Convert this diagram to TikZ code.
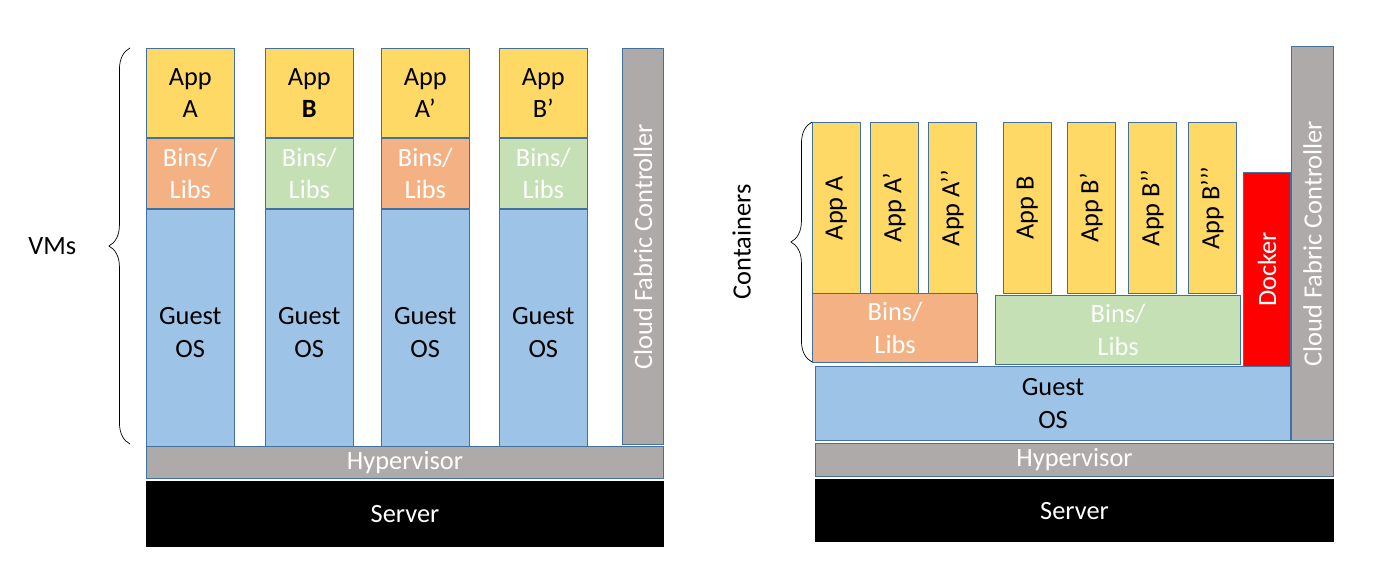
\documentclass[tikz,border=0pt]{standalone}
\usepackage{fontspec}
\setmainfont{Carlito}
\usepackage{xcolor}
\usepackage{graphicx}
\usepackage{tikz}
\usetikzlibrary{positioning, decorations.pathreplacing}
\definecolor{appyellow}{HTML}{FFD966}
\definecolor{binorange}{HTML}{F4B183}
\definecolor{bingreen}{HTML}{C5E0B4}
\definecolor{osblue}{HTML}{9DC3E6}
\definecolor{hvgray}{HTML}{AEAAAA}
\definecolor{dockerred}{HTML}{FF0000}
\definecolor{edgeblue}{HTML}{41719C}

\begin{document}
\begin{tikzpicture}[
    layer/.style={rectangle, draw=edgeblue, line width=0.6pt, anchor=north west, inner sep=0pt, align=center, font=\fontsize{15}{18.5}\selectfont},
    app/.style={layer, fill=appyellow, text=black},
    binsa/.style={layer, fill=binorange, text=white},
    binsb/.style={layer, fill=bingreen, text=white},
    guest/.style={layer, fill=osblue, text=black},
    grey/.style={layer, fill=hvgray, text=white},
    server/.style={layer, draw=black, fill=black, text=white},
    vmcol/.style={minimum width=1.75cm},
    capp/.style={app, minimum width=0.95cm, minimum height=3.42cm},
    brace/.style={decorate, decoration={brace, amplitude=12pt}, thin},
    side/.style={font=\fontsize{15}{18.5}\selectfont}
]
    \useasboundingbox (0,0) rectangle (27.5,-11.26);

    % Virtual machines
    \node[app, vmcol, minimum height=1.78cm] (vmappA) at (2.92,-0.96) {App\\A};
    \node[binsa, vmcol, minimum height=1.40cm, below=0pt of vmappA] (vmbinsA) {Bins/\\Libs};
    \node[guest, vmcol, minimum height=4.74cm, below=0pt of vmbinsA] (vmosA) {\mbox{}\\[-4pt]Guest\\OS};

    \node[app, vmcol, minimum height=1.78cm] (vmappB) at (5.30,-0.96) {App\\\textbf{B}};
    \node[binsb, vmcol, minimum height=1.40cm, below=0pt of vmappB] (vmbinsB) {Bins/\\Libs};
    \node[guest, vmcol, minimum height=4.74cm, below=0pt of vmbinsB] (vmosB) {\mbox{}\\[-4pt]Guest\\OS};

    \node[app, vmcol, minimum height=1.78cm] (vmappAp) at (7.62,-0.96) {App\\A’};
    \node[binsa, vmcol, minimum height=1.40cm, below=0pt of vmappAp] (vmbinsAp) {Bins/\\Libs};
    \node[guest, vmcol, minimum height=4.74cm, below=0pt of vmbinsAp] (vmosAp) {\mbox{}\\[-4pt]Guest\\OS};

    \node[app, vmcol, minimum height=1.78cm] (vmappBp) at (9.98,-0.96) {App\\B’};
    \node[binsb, vmcol, minimum height=1.40cm, below=0pt of vmappBp] (vmbinsBp) {Bins/\\Libs};
    \node[guest, vmcol, minimum height=4.74cm, below=0pt of vmbinsBp] (vmosBp) {\mbox{}\\[-4pt]Guest\\OS};

    \node[grey, minimum width=0.82cm, minimum height=7.92cm] (vmcfc) at (12.44,-0.96) {\rotatebox{90}{Cloud Fabric Controller}};
    \node[grey, minimum width=10.34cm, minimum height=0.64cm] (vmhyper) at (2.92,-8.92) {Hypervisor};
    \node[server, minimum width=10.34cm, minimum height=1.30cm, below=0.04cm of vmhyper] (vmserver) {Server};

    % VM brace
    \coordinate (vmtop) at (2.60,-0.96);
    \coordinate (vmbot) at (2.60,-8.88);
    \draw[brace] (vmbot) -- (vmtop) node[side, midway, left=0.95cm] (vmlabel) {VMs};

    % Containers
    \node[capp] (cappA) at (16.24,-2.44) {\rotatebox{90}{App A}};
    \node[capp] (cappAp) at (17.40,-2.44) {\rotatebox{90}{App A’}};
    \node[capp] (cappApp) at (18.56,-2.44) {\rotatebox{90}{App A’’}};
    \node[capp] (cappB) at (20.06,-2.44) {\rotatebox{90}{App B}};
    \node[capp] (cappBp) at (21.34,-2.44) {\rotatebox{90}{App B’}};
    \node[capp] (cappBpp) at (22.56,-2.44) {\rotatebox{90}{App B’’}};
    \node[capp] (cappBppp) at (23.76,-2.44) {\rotatebox{90}{App B’’’}};

    \node[binsa, minimum width=3.30cm, minimum height=1.38cm] (cbinsA) at (16.24,-5.86) {Bins/\\Libs};
    \node[binsb, minimum width=4.90cm, minimum height=1.38cm] (cbinsB) at (19.90,-5.90) {Bins/\\Libs};
    \node[layer, fill=dockerred, text=white, minimum width=0.94cm, minimum height=3.88cm] (docker) at (24.86,-3.44) {\rotatebox{90}{Docker}};
    \node[guest, minimum width=9.50cm, minimum height=1.48cm] (cos) at (16.30,-7.32) {Guest\\OS};

    \node[grey, minimum width=0.84cm, minimum height=7.88cm] (ccfc) at (25.82,-0.92) {\rotatebox{90}{Cloud Fabric Controller}};
    \node[grey, minimum width=10.36cm, minimum height=0.66cm] (chyper) at (16.30,-8.86) {Hypervisor};
    \node[server, minimum width=10.36cm, minimum height=1.24cm, below=0.04cm of chyper] (cserver) {Server};

    % Container brace
    \coordinate (ctop) at (16.24,-2.44);
    \coordinate (cbot) at (16.24,-7.24);
    \draw[brace] (cbot) -- (ctop) node[side, midway, left=1.1cm] (clabel) {\rotatebox{90}{Containers}};

\end{tikzpicture}
\end{document}
